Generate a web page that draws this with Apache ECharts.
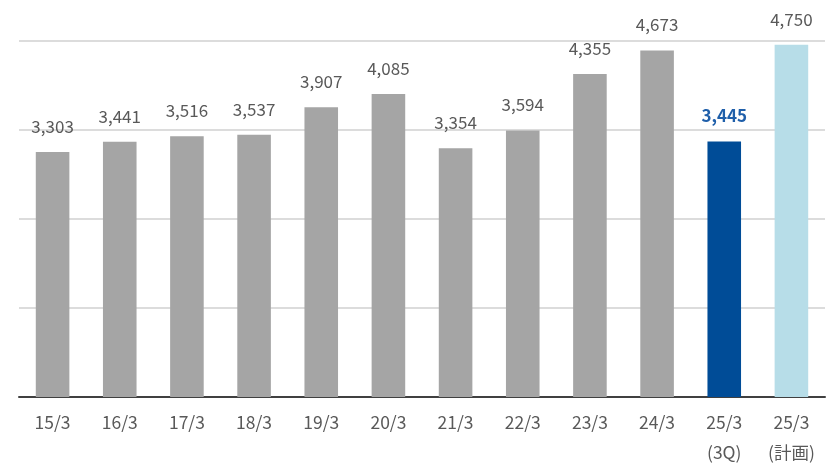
<!DOCTYPE html>
<html><head><meta charset="utf-8">
<script src="https://cdn.jsdelivr.net/npm/echarts@6/dist/echarts.min.js"></script>
<style>html,body{margin:0;padding:0;background:#fff}#c{width:830px;height:467px}</style>
</head><body><div id="c"></div>
<script>
const categories = ['15/3','16/3','17/3','18/3','19/3','20/3','21/3','22/3','23/3','24/3','25/3\n(3Q)','25/3\n(計画)'];
const values = [3303,3441,3516,3537,3907,4085,3354,3594,4355,4673,3445,4750];
const barColors = ['#A5A5A5','#A5A5A5','#A5A5A5','#A5A5A5','#A5A5A5','#A5A5A5','#A5A5A5','#A5A5A5','#A5A5A5','#A5A5A5','#004C97','#B7DDE8'];
const labelColors = ['#595959','#595959','#595959','#595959','#595959','#595959','#595959','#595959','#595959','#595959','#1F5FAA','#595959'];
const labelBold = [false,false,false,false,false,false,false,false,false,false,true,false];
const yMin = 0, yMax = 4800, yInterval = 1200;

const font = '"Noto Sans CJK JP", "Noto Sans", sans-serif';
const chart = echarts.init(document.getElementById('c'));
chart.setOption({
  animation: false,
  grid: {left: 19, right: 5, top: 41, bottom: 70},
  xAxis: {
    type: 'category', data: categories,
    axisLine: {lineStyle: {color: '#404040', width: 2}},
    axisTick: {show: false},
    axisLabel: {color: '#595959', fontSize: 17.5, fontFamily: font, lineHeight: 30, margin: 10, interval: 0}
  },
  yAxis: {
    type: 'value', min: yMin, max: yMax, interval: yInterval,
    axisLabel: {show: false}, axisLine: {show: false}, axisTick: {show: false},
    splitLine: {lineStyle: {color: '#D0D0D0', width: 1.5}}
  },
  series: [{
    type: 'bar', barWidth: '50%',
    data: values.map((v, i) => ({
      value: v,
      itemStyle: {color: barColors[i]},
      label: {color: labelColors[i], fontWeight: labelBold[i] ? 'bold' : 'normal'}
    })),
    label: {
      show: true, position: 'top', distance: 17,
      fontSize: 17, fontFamily: font,
      formatter: p => p.value.toLocaleString('en-US')
    }
  }]
});
</script></body></html>
